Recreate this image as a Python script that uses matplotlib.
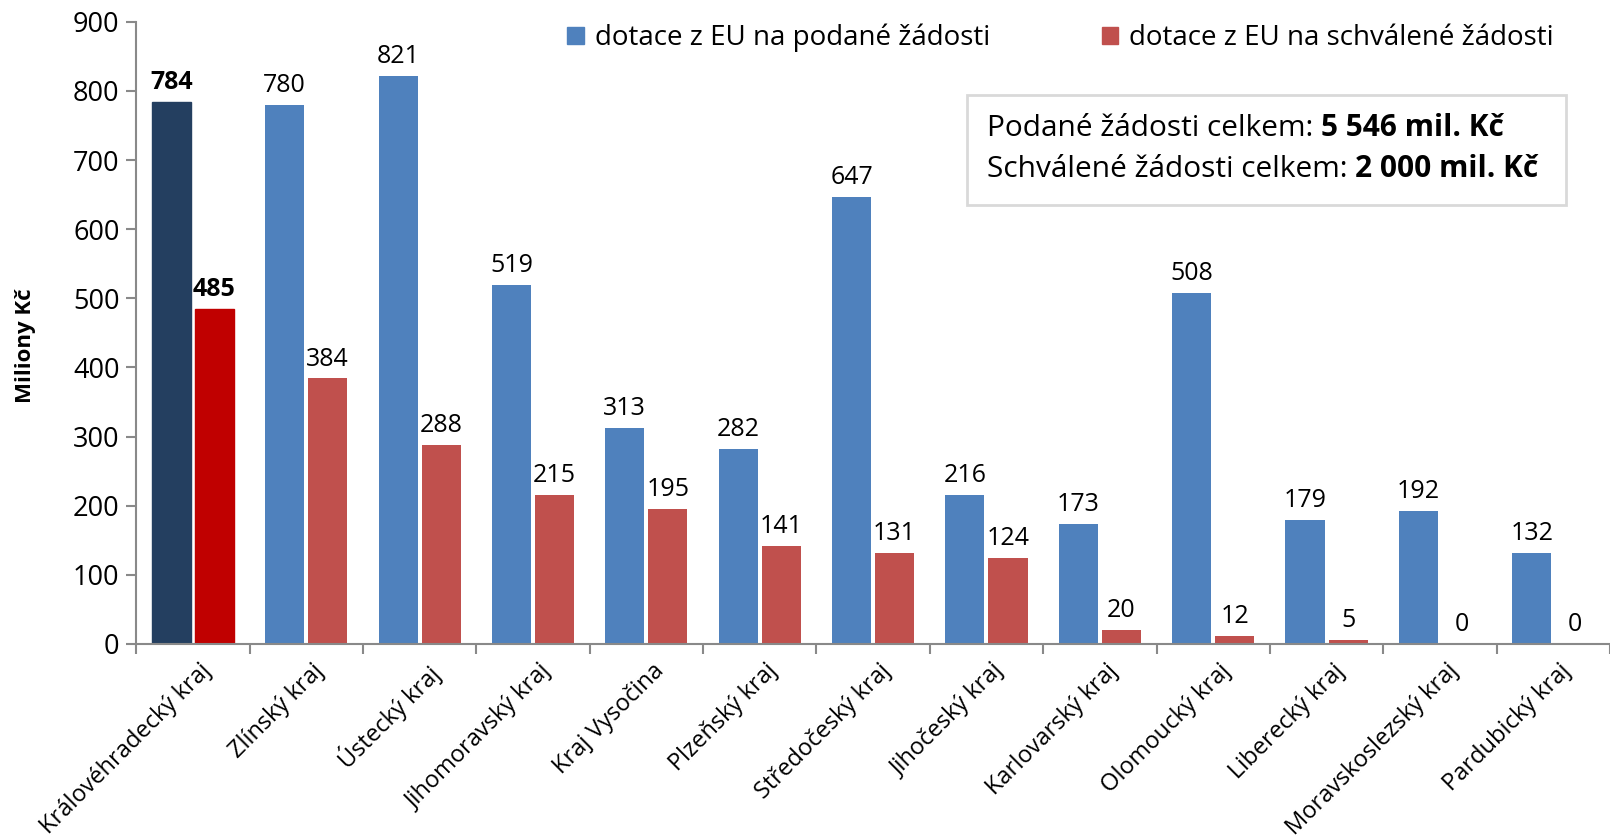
import numpy as np
import matplotlib.pyplot as plt
from matplotlib.patches import Patch, Rectangle
from matplotlib.transforms import ScaledTranslation

plt.rcParams['font.family'] = ['Open Sans', 'DejaVu Sans']

kraje = ["Královéhradecký kraj", "Zlínský kraj", "Ústecký kraj", "Jihomoravský kraj",
         "Kraj Vysočina", "Plzeňský kraj", "Středočeský kraj", "Jihočeský kraj",
         "Karlovarský kraj", "Olomoucký kraj", "Liberecký kraj", "Moravskoslezský kraj",
         "Pardubický kraj"]
podane = [784, 780, 821, 519, 313, 282, 647, 216, 173, 508, 179, 192, 132]
schvalene = [485, 384, 288, 215, 195, 141, 131, 124, 20, 12, 5, 0, 0]
celkem_podane = "5 546 mil. Kč"
celkem_schvalene = "2 000 mil. Kč"

modra = "#4F81BD"
cervena = "#C0504D"
osa = "#898989"

fig = plt.figure(figsize=(16.1, 8.39), dpi=100)
ax = fig.add_axes([0.0846, 0.2326, 0.9154, 0.7414])

x = np.arange(len(kraje))
w = 0.345
off = 0.19
b1 = ax.bar(x - off, podane, w, color=modra)
b2 = ax.bar(x + off, schvalene, w, color=cervena)
# zvýrazněný první kraj
b1[0].set_color("#243F60")
b2[0].set_color("#C00000")

for i in range(len(kraje)):
    fw = "bold" if i == 0 else "normal"
    ax.annotate(str(podane[i]), (x[i] - off, podane[i]), xytext=(0, 5),
                textcoords="offset points", ha="center", va="bottom",
                fontsize=18, fontweight=fw)
    ax.annotate(str(schvalene[i]), (x[i] + off, schvalene[i]), xytext=(0, 5),
                textcoords="offset points", ha="center", va="bottom",
                fontsize=18, fontweight=fw)

ax.set_xlim(-0.5, len(kraje) - 0.5)
ax.set_ylim(0, 900)
ax.set_yticks(range(0, 901, 100))
ax.tick_params(axis="y", labelsize=19.5, color=osa, length=7, width=1.5, pad=5)
ax.set_xticks(np.arange(-0.5, len(kraje) + 0.5, 1))
ax.set_xticklabels([])
ax.tick_params(axis="x", color=osa, length=7, width=1.5)
ax.set_xticks(x, minor=True)
ax.set_xticklabels(kraje, minor=True, rotation=45, ha="right", rotation_mode="anchor",
                   fontsize=17)
ax.tick_params(axis="x", which="minor", length=0, pad=11)
posun = ScaledTranslation(0.06, 0, fig.dpi_scale_trans)
for lab in ax.get_xticklabels(minor=True):
    lab.set_transform(lab.get_transform() + posun)

for s in ["top", "right"]:
    ax.spines[s].set_visible(False)
for s in ["left", "bottom"]:
    ax.spines[s].set_color(osa)
    ax.spines[s].set_linewidth(1.5)

ax.set_ylabel("Miliony Kč", fontsize=16, fontweight="bold")
ax.yaxis.set_label_coords(-0.068, 0.479)

handles = [Patch(color=modra, label="dotace z EU na podané žádosti"),
           Patch(color=cervena, label="dotace z EU na schválené žádosti")]
ax.legend(handles=handles, loc="center right", bbox_to_anchor=(0.962, 0.974), ncol=2,
          frameon=False, fontsize=20, handlelength=0.6, handleheight=0.6,
          columnspacing=4.0, handletextpad=0.4, borderaxespad=0, borderpad=0)

# rámeček se součty
ax.add_patch(Rectangle((0.564, 0.706), 0.406, 0.177, transform=ax.transAxes,
                       fc="white", ec="#D9D9D9", lw=2, zorder=3))
radky = [("Podané žádosti celkem: ", celkem_podane, 0.828),
         ("Schválené žádosti celkem: ", celkem_schvalene, 0.762)]
for norm, tuc, yy in radky:
    t = ax.text(0.577, yy, norm, transform=ax.transAxes, fontsize=21.5,
                va="center", ha="left", zorder=4)
    ax.annotate(tuc, xy=(1, 0), xycoords=t, va="bottom", ha="left",
                fontsize=21.5, fontweight="bold", zorder=4)

plt.savefig("out.png", dpi=100)
